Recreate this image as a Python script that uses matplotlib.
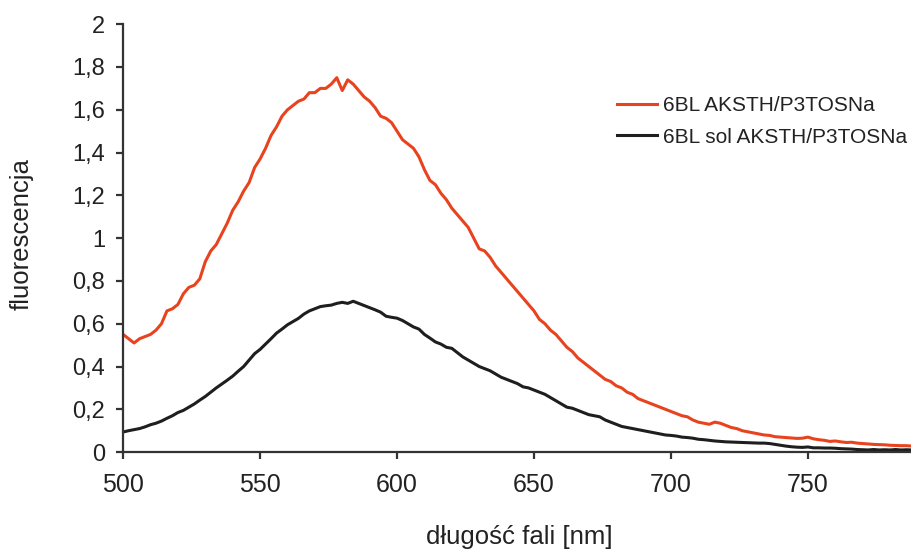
import matplotlib
matplotlib.use("Agg")
import matplotlib.pyplot as plt
import numpy as np

plt.rcParams['font.family'] = ['Liberation Sans', 'DejaVu Sans']

# wavelength grid (nm), sampled every 2 nm
wavelength = np.arange(500, 790, 2)

# 6BL AKSTH/P3TOSNa (red)
fluo_red = [
    0.55, 0.53, 0.51, 0.53, 0.54, 0.55, 0.57, 0.60, 0.66, 0.67,
    0.69, 0.74, 0.77, 0.78, 0.81, 0.89, 0.94, 0.97, 1.02, 1.07,
    1.13, 1.17, 1.22, 1.26, 1.33, 1.37, 1.42, 1.48, 1.52, 1.57,
    1.60, 1.62, 1.64, 1.65, 1.68, 1.68, 1.70, 1.70, 1.72, 1.75,
    1.69, 1.74, 1.72, 1.69, 1.66, 1.64, 1.61, 1.57, 1.56, 1.54,
    1.50, 1.46, 1.44, 1.42, 1.38, 1.32, 1.27, 1.25, 1.21, 1.18,
    1.14, 1.11, 1.08, 1.05, 1.00, 0.95, 0.94, 0.91, 0.87, 0.84,
    0.81, 0.78, 0.75, 0.72, 0.69, 0.66, 0.62, 0.60, 0.57, 0.55,
    0.52, 0.49, 0.47, 0.44, 0.42, 0.40, 0.38, 0.36, 0.34, 0.33,
    0.31, 0.30, 0.28, 0.27, 0.25, 0.24, 0.23, 0.22, 0.21, 0.20,
    0.19, 0.18, 0.17, 0.165, 0.15, 0.14, 0.135, 0.13, 0.14, 0.135,
    0.125, 0.115, 0.11, 0.10, 0.095, 0.09, 0.085, 0.08, 0.078, 0.072,
    0.07, 0.068, 0.066, 0.064, 0.065, 0.07, 0.062, 0.058, 0.055, 0.05,
    0.052, 0.048, 0.045, 0.046, 0.042, 0.04, 0.038, 0.036, 0.035, 0.034,
    0.032, 0.031, 0.03, 0.03, 0.028,
]

# 6BL sol AKSTH/P3TOSNa (black)
fluo_black = [
    0.094, 0.10, 0.105, 0.11, 0.118, 0.128, 0.135, 0.145, 0.158, 0.17,
    0.185, 0.195, 0.21, 0.225, 0.243, 0.26, 0.28, 0.30, 0.318, 0.336,
    0.355, 0.378, 0.40, 0.43, 0.46, 0.48, 0.505, 0.53, 0.556, 0.575,
    0.595, 0.61, 0.625, 0.645, 0.66, 0.67, 0.68, 0.684, 0.687, 0.695,
    0.70, 0.695, 0.705, 0.695, 0.685, 0.675, 0.665, 0.654, 0.635, 0.63,
    0.626, 0.615, 0.60, 0.585, 0.575, 0.55, 0.533, 0.515, 0.505, 0.49,
    0.485, 0.465, 0.445, 0.43, 0.415, 0.40, 0.39, 0.38, 0.365, 0.35,
    0.34, 0.33, 0.32, 0.305, 0.30, 0.29, 0.28, 0.27, 0.255, 0.24,
    0.225, 0.21, 0.205, 0.195, 0.185, 0.175, 0.17, 0.165, 0.15, 0.14,
    0.13, 0.12, 0.115, 0.11, 0.105, 0.10, 0.095, 0.09, 0.085, 0.08,
    0.078, 0.075, 0.07, 0.068, 0.065, 0.06, 0.058, 0.055, 0.052, 0.05,
    0.048, 0.047, 0.046, 0.045, 0.044, 0.043, 0.042, 0.042, 0.04, 0.036,
    0.032, 0.028, 0.025, 0.023, 0.022, 0.024, 0.02, 0.02, 0.019, 0.019,
    0.018, 0.016, 0.015, 0.014, 0.012, 0.011, 0.01, 0.012, 0.01, 0.011,
    0.01, 0.012, 0.01, 0.011, 0.01,
]

series_labels = ["6BL AKSTH/P3TOSNa", "6BL sol AKSTH/P3TOSNa"]
x_ticks = [500, 550, 600, 650, 700, 750]
y_ticks = [0, 0.2, 0.4, 0.6, 0.8, 1.0, 1.2, 1.4, 1.6, 1.8, 2.0]
y_tick_labels = ["0", "0,2", "0,4", "0,6", "0,8", "1", "1,2", "1,4", "1,6", "1,8", "2"]

fig = plt.figure(figsize=(9.12, 5.5), dpi=100)
ax = fig.add_axes([0.135, 0.178, 0.865, 0.778])

ax.plot(wavelength, fluo_red, color="#e8431e", lw=2.2, label=series_labels[0])
ax.plot(wavelength, fluo_black, color="#1e1e1e", lw=2.2, label=series_labels[1])

ax.set_xlim(500, 788)
ax.set_ylim(0, 2)
ax.set_xticks(x_ticks)
ax.set_yticks(y_ticks)
ax.set_yticklabels(y_tick_labels)

for side in ["top", "right"]:
    ax.spines[side].set_visible(False)
for side in ["left", "bottom"]:
    ax.spines[side].set_color("#333333")
    ax.spines[side].set_linewidth(1.6)

ax.tick_params(axis="x", direction="out", length=5, width=1.6, color="#333333",
               labelsize=18, pad=10, labelcolor="#222222")
ax.tick_params(axis="y", direction="out", length=5, width=1.6, color="#333333",
               labelsize=17, pad=8, labelcolor="#222222")

fig.text(0.569, 0.024, "długość fali [nm]", ha="center", va="center",
         fontsize=18.5, color="#222222")
fig.text(0.024, 0.575, "fluorescencja", ha="center", va="center",
         rotation=90, fontsize=18.5, color="#222222")

ax.legend(loc="upper left", bbox_to_anchor=(0.626, 0.832), frameon=False,
          fontsize=15, handlelength=1.9, handletextpad=0.3, labelspacing=0.6,
          borderaxespad=0, borderpad=0, labelcolor="#222222")

fig.savefig("out.png", dpi=100)
